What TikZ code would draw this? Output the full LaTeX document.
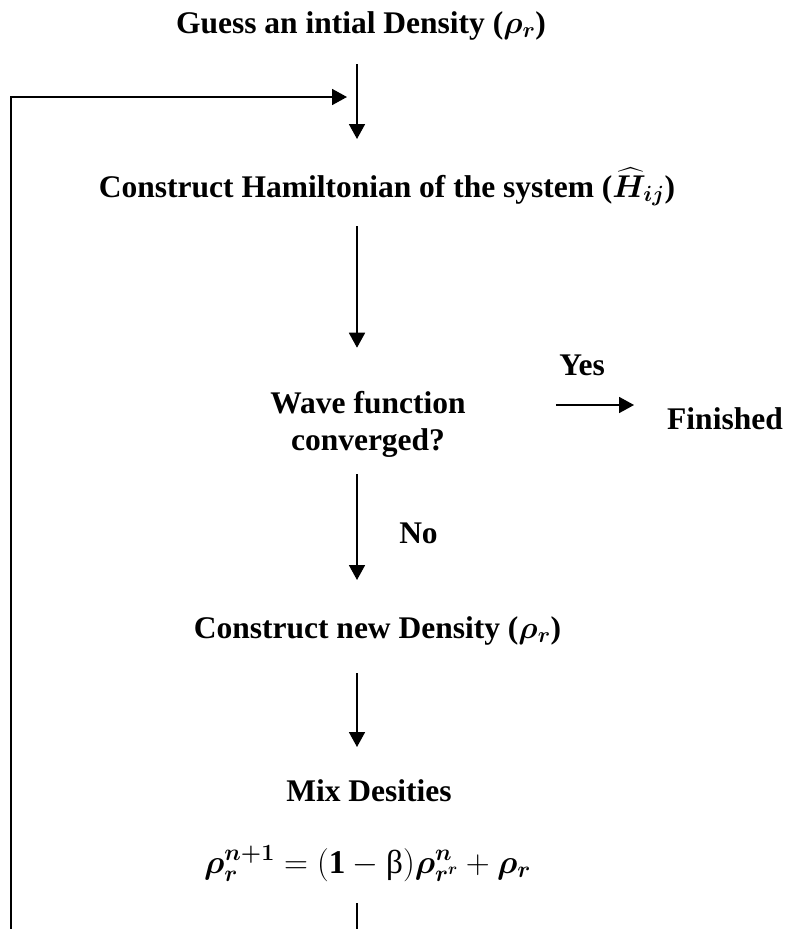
\RequirePackage{fix-cm}
\documentclass[tikz,border=0pt]{standalone}
\usepackage{amsmath,bm}
\usepackage{fontspec}
\setmainfont{Liberation Serif}
\usetikzlibrary{arrows.meta,calc}
\begin{document}
\begin{tikzpicture}[x=1pt,y=-1pt,
  lbl/.style={font=\fontsize{31.5}{37}\selectfont\bfseries, inner sep=0pt, anchor=base},
  arr/.style={line width=1.8pt, -{Triangle[width=16pt,length=15pt]}}]
\useasboundingbox (0,0) rectangle (787,929);
\coordinate (colx) at (357,0);
\node[lbl] (guess) at (361,33) {Guess an intial Density (\(\bm{\rho}_{\bm{r}}\))};
\node[lbl] (ham) at (387,197) {Construct Hamiltonian of the system (\(\bm{\widehat{H}}_{\bm{ij}}\))};
\node[lbl, align=center, anchor=center] (wave) at (368,424) {Wave function\\converged?};
\node[lbl] (yes) at (582,375) {Yes};
\node[lbl] (finished) at (725,429) {Finished};
\node[lbl] (no) at (418.5,543) {No};
\node[lbl] (newd) at (377.5,638) {Construct new Density (\(\bm{\rho}_{\bm{r}}\))};
\node[lbl] (mix) at (369,801) {Mix Desities};
\node[lbl, font=\fontsize{33.2}{38}\selectfont\bfseries] (formula) at (367.5,873) {\(\bm{\rho}_{\bm{r}}^{\bm{n+1}} = (\mathbf{1} - \textnormal{β})\bm{\rho}_{\bm{r}^{\bm{r}}}^{\bm{n}} + \bm{\rho}_{\bm{r}}\)};
\coordinate (loopb) at (11,929.7);
\coordinate (looptip) at (347,97);
\draw[arr] ($(guess.base -| colx)+(0,31)$) -- ($(ham.base -| colx)+(0,-58)$);
\draw[arr] ($(ham.base -| colx)+(0,29)$) -- ($(wave.north -| colx)+(0,-43)$);
\draw[arr] ($(wave.south -| colx)+(0,17)$) -- ($(newd.base -| colx)+(0,-58)$);
\draw[arr] ($(newd.base -| colx)+(0,35)$) -- ($(mix.base -| colx)+(0,-54)$);
\draw[arr] ($(wave.east |- yes.base)+(90,30)$) -- ($(finished.west |- yes.base)+(-33,30)$);
\draw[arr] ($(formula.base -| colx)+(0,30)$) |- (loopb) |- (looptip);
\end{tikzpicture}
\end{document}
